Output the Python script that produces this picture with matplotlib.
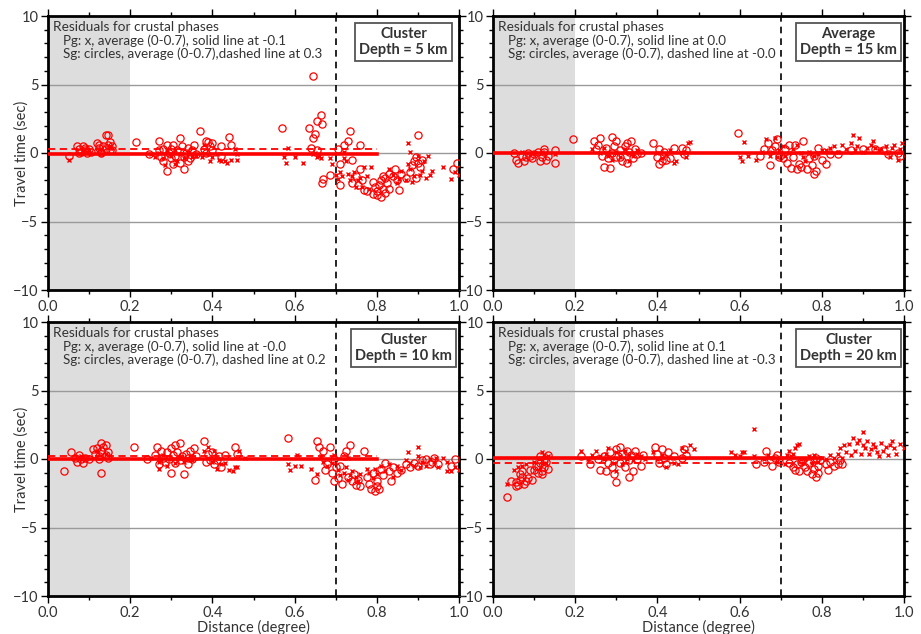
import matplotlib
matplotlib.use("Agg")
import matplotlib.pyplot as plt
import numpy as np

plt.rcParams['font.family'] = ['Lato', 'DejaVu Sans']

# panel order: top-left, top-right, bottom-left, bottom-right
box_labels = ["Cluster\nDepth = 5 km", "Average\nDepth = 15 km",
              "Cluster\nDepth = 10 km", "Cluster\nDepth = 20 km"]
pg_text = ["Pg: x, average (0-0.7), solid line at -0.1",
           "Pg: x, average (0-0.7), solid line at 0.0",
           "Pg: x, average (0-0.7), solid line at -0.0",
           "Pg: x, average (0-0.7), solid line at 0.1"]
sg_text = ["Sg: circles, average (0-0.7),dashed line at 0.3",
           "Sg: circles, average (0-0.7), dashed line at -0.0",
           "Sg: circles, average (0-0.7), dashed line at 0.2",
           "Sg: circles, average (0-0.7), dashed line at -0.3"]
pg_avg = [-0.1, 0.0, -0.0, 0.1]
sg_avg = [0.3, -0.0, 0.2, -0.3]
avg_end = [0.8, 1.0, 0.8, 0.8]

# depth 5 km
sg5 = [(0.05,-0.2),(0.07,0.5),(0.075,0.3),(0.08,0.1),(0.085,0.5),(0.09,0.2),(0.095,0.0),(0.1,0.3),
       (0.105,0.1),(0.075,0.0),(0.09,0.4),(0.12,0.7),(0.125,0.4),(0.13,0.1),(0.135,0.5),(0.14,0.3),
       (0.145,0.6),(0.15,0.8),(0.155,0.5),(0.14,1.3),(0.145,1.3),(0.13,0.0),(0.15,0.2),(0.125,0.6),
       (0.155,0.2),(0.215,0.8),(0.245,-0.1),(0.27,0.9),(0.27,0.2),(0.275,-0.3),(0.28,-0.6),(0.29,0.6),
       (0.295,0.0),(0.3,0.3),(0.3,-0.4),(0.305,0.6),(0.31,-0.2),(0.315,0.2),(0.32,1.1),(0.32,-0.7),
       (0.325,0.5),(0.33,-0.3),(0.33,-1.2),(0.335,0.0),(0.34,0.4),(0.345,-0.4),(0.35,0.2),(0.355,0.6),
       (0.36,-0.1),(0.29,-1.3),(0.305,-0.8),(0.28,0.3),(0.34,-0.6),(0.37,1.6),(0.38,0.3),(0.385,0.9),
       (0.39,0.8),(0.395,0.5),(0.4,0.2),(0.4,0.7),(0.385,0.0),(0.42,0.5),(0.44,1.2),(0.445,0.6),
       (0.42,-0.2),(0.57,1.85),(0.635,1.8),(0.64,0.4),(0.645,5.6),(0.645,1.1),(0.65,1.4),(0.655,2.3),
       (0.665,2.8),(0.667,2.1),(0.667,-2.2),(0.655,0.2),(0.67,-1.9),(0.685,-1.6),(0.705,0.3),(0.71,-0.8),
       (0.71,-2.3),(0.72,0.6),(0.73,0.9),(0.735,1.6),(0.74,-0.5),(0.74,-2.2),(0.755,-2.3),(0.76,0.6),
       (0.765,-2.0),(0.77,-2.7),(0.775,-2.8),(0.76,-1.2),(0.75,-1.7),(0.79,-2.1),(0.795,-2.5),(0.8,-2.8),
       (0.8,-3.1),(0.805,-2.3),(0.81,-2.0),(0.81,-3.2),(0.815,-2.6),(0.82,-1.8),(0.82,-2.9),(0.825,-2.2),
       (0.83,-1.5),(0.83,-2.6),(0.79,-3.0),(0.815,-1.7),(0.84,-1.7),(0.845,-1.2),(0.85,-2.0),(0.855,-2.7),
       (0.86,-1.5),(0.87,-1.8),(0.88,-1.4),(0.885,-0.9),(0.89,-0.6),(0.895,-0.3),(0.9,1.3),(0.9,-0.7),
       (0.905,-1.0),(0.91,-0.5),(0.895,-1.8),(0.985,-1.2),(0.995,-0.7)]
pg5 = [(0.05,-0.5),(0.1,0.2),(0.13,0.3),(0.15,0.5),(0.25,-0.1),(0.26,-0.3),(0.27,0.0),(0.28,-0.4),
       (0.29,0.1),(0.3,-0.2),(0.31,0.2),(0.315,-0.6),(0.32,-0.1),(0.33,-0.4),(0.34,0.1),(0.35,-0.3),
       (0.36,-0.2),(0.285,-0.9),(0.31,-0.8),(0.375,-0.3),(0.38,0.6),(0.39,-0.1),(0.395,-0.6),(0.4,-0.3),
       (0.41,-0.1),(0.415,-0.5),(0.42,-0.6),(0.43,-0.6),(0.435,-0.7),(0.445,-0.5),(0.455,0.3),(0.46,-0.1),
       (0.46,-0.5),(0.575,-0.3),(0.58,-0.7),(0.585,0.4),(0.6,-0.3),(0.62,-0.7),(0.645,-0.1),(0.65,0.0),
       (0.655,-0.3),(0.66,-0.2),(0.665,-0.4),(0.69,-0.8),(0.685,-0.4),(0.7,-1.6),(0.705,-1.9),(0.71,-1.4),
       (0.715,-1.7),(0.72,-0.4),(0.725,-0.6),(0.73,-1.5),(0.735,-2.0),(0.74,-1.7),(0.745,-1.4),(0.75,-2.5),
       (0.755,-2.0),(0.76,-1.8),(0.765,-2.5),(0.77,-1.0),(0.775,-1.7),(0.78,-2.6),(0.785,-1.0),(0.72,0.1),
       (0.83,-1.2),(0.84,-1.6),(0.85,-2.2),(0.855,-1.9),(0.86,-1.3),(0.87,-2.0),(0.875,-0.8),(0.875,0.7),
       (0.88,-1.2),(0.885,-2.1),(0.89,-1.7),(0.88,0.1),(0.9,-0.2),(0.905,-1.6),(0.91,-1.3),(0.915,-0.6),
       (0.92,-1.8),(0.925,-0.2),(0.93,-1.6),(0.935,-1.3),(0.96,-1.0),(0.98,-1.9),(0.99,-1.4),(1.0,-1.6)]

# depth 15 km (average)
sg15 = [(0.05,0.0),(0.055,-0.5),(0.06,-0.7),(0.07,-0.2),(0.075,-0.6),(0.08,-0.3),(0.085,0.0),(0.09,-0.2),
        (0.095,-0.4),(0.1,-0.1),(0.11,0.1),(0.115,-0.6),(0.12,-0.3),(0.125,0.1),(0.13,-0.5),(0.125,0.3),
        (0.135,-0.2),(0.15,0.2),(0.15,-0.7),(0.195,1.0),(0.245,0.9),(0.25,0.3),(0.255,0.6),(0.26,1.1),
        (0.265,-0.2),(0.27,-1.0),(0.275,0.4),(0.28,-0.4),(0.285,-1.1),(0.29,0.0),(0.29,1.2),(0.295,0.5),
        (0.3,0.9),(0.3,-0.3),(0.31,0.2),(0.315,-0.6),(0.32,0.5),(0.325,-0.7),(0.33,0.1),(0.335,0.9),
        (0.34,-0.4),(0.345,0.3),(0.35,-0.1),(0.36,0.0),(0.31,-0.3),(0.325,0.7),(0.39,0.7),(0.4,-0.3),
        (0.405,0.3),(0.41,-0.6),(0.405,-0.8),(0.415,0.1),(0.42,-0.5),(0.43,-0.4),(0.44,0.4),(0.46,0.4),
        (0.465,-0.1),(0.47,0.2),(0.595,1.45),(0.65,-0.2),(0.66,0.3),(0.67,0.7),(0.675,-0.9),(0.68,0.2),
        (0.685,0.5),(0.69,1.0),(0.695,-0.3),(0.705,-0.4),(0.71,0.3),(0.715,-0.7),(0.72,0.6),(0.725,-1.1),
        (0.73,-0.3),(0.735,0.6),(0.74,-1.2),(0.745,-0.8),(0.75,-1.0),(0.755,0.9),(0.765,-1.2),(0.77,-0.4),
        (0.775,-0.9),(0.78,-1.5),(0.785,-1.3),(0.79,0.4),(0.78,-0.2),(0.8,-0.5),(0.81,-0.8),(0.82,-0.1),
        (0.84,-0.1),(0.87,0.2),(0.9,0.3),(0.93,0.3),(0.95,0.2),(0.96,-0.1),(0.985,0.0),(0.99,-0.2)]
pg15 = [(0.07,0.1),(0.1,0.0),(0.12,0.1),(0.15,-0.1),(0.24,0.3),(0.26,0.0),(0.27,0.4),(0.28,-0.2),
        (0.3,0.1),(0.31,-0.3),(0.32,0.3),(0.33,0.0),(0.34,-0.2),(0.35,0.2),(0.29,-0.5),(0.33,-0.6),
        (0.4,0.0),(0.41,-0.4),(0.42,-0.1),(0.43,0.2),(0.44,-0.7),(0.445,-0.6),(0.46,0.0),(0.47,-0.3),
        (0.475,0.7),(0.48,0.8),(0.6,-0.3),(0.605,-0.6),(0.61,0.8),(0.62,-0.2),(0.64,-0.5),(0.655,0.1),
        (0.665,1.0),(0.675,-0.2),(0.68,0.1),(0.685,1.1),(0.69,-0.3),(0.695,0.2),(0.705,0.5),(0.71,-0.2),
        (0.72,0.0),(0.73,0.3),(0.74,0.6),(0.75,0.0),(0.755,-0.3),(0.76,-0.6),(0.77,0.1),(0.78,-0.2),
        (0.79,-0.1),(0.8,0.2),(0.81,0.2),(0.82,0.4),(0.83,0.5),(0.84,0.1),(0.85,0.6),(0.86,0.3),
        (0.87,0.7),(0.875,1.3),(0.88,0.2),(0.885,0.5),(0.89,1.1),(0.9,0.1),(0.91,0.4),(0.92,0.6),
        (0.925,0.9),(0.93,0.4),(0.94,0.2),(0.945,0.3),(0.955,0.5),(0.96,0.0),(0.965,-0.3),(0.97,0.4),
        (0.975,0.6),(0.985,-0.5),(0.99,0.3),(0.995,0.7)]

# depth 10 km
sg10 = [(0.04,-0.9),(0.055,0.5),(0.065,0.1),(0.07,-0.2),(0.075,0.3),(0.08,0.0),(0.085,-0.3),(0.09,0.1),
        (0.1,0.0),(0.11,0.7),(0.115,0.4),(0.12,0.8),(0.125,0.2),(0.13,1.2),(0.13,0.6),(0.135,0.9),
        (0.14,0.3),(0.14,1.0),(0.145,0.5),(0.13,-1.0),(0.125,0.0),(0.145,0.1),(0.21,0.9),(0.24,0.0),
        (0.26,0.3),(0.265,0.9),(0.27,-0.4),(0.275,0.6),(0.28,0.1),(0.285,-0.2),(0.29,0.5),(0.295,0.0),
        (0.3,-1.0),(0.3,0.8),(0.305,0.3),(0.31,-0.3),(0.31,1.0),(0.315,0.5),(0.32,1.2),(0.32,-0.1),
        (0.325,0.2),(0.33,-1.1),(0.335,0.4),(0.34,-0.4),(0.345,0.6),(0.35,0.0),(0.355,0.8),(0.36,0.2),
        (0.34,0.1),(0.38,1.3),(0.385,-0.2),(0.39,0.4),(0.395,-0.1),(0.4,0.5),(0.405,-0.4),(0.41,-0.1),
        (0.415,0.2),(0.42,-0.6),(0.43,0.3),(0.455,0.9),(0.46,0.4),(0.585,1.5),(0.65,-1.5),(0.655,1.3),
        (0.66,0.9),(0.67,0.6),(0.675,-0.8),(0.68,-0.4),(0.685,0.9),(0.69,-1.0),(0.695,-1.6),(0.7,-0.6),
        (0.695,0.0),(0.705,-1.4),(0.71,-0.5),(0.715,-1.8),(0.72,0.2),(0.725,0.6),(0.73,-1.3),(0.735,1.0),
        (0.74,-1.6),(0.745,-1.1),(0.75,-1.9),(0.755,-1.5),(0.76,-2.0),(0.77,0.6),(0.775,-1.3),(0.78,-1.8),
        (0.785,-2.2),(0.79,-1.0),(0.795,-2.3),(0.8,-1.6),(0.805,-2.2),(0.81,-0.7),(0.815,-1.2),(0.8,-2.0),
        (0.82,-0.3),(0.83,-0.9),(0.835,-1.6),(0.84,-0.6),(0.85,-1.0),(0.86,-0.8),(0.87,-0.4),(0.88,-0.6),
        (0.89,-0.3),(0.9,-0.5),(0.91,-0.1),(0.92,0.0),(0.93,-0.4),(0.935,-0.2),(0.94,0.1),(0.95,-0.4),
        (0.98,-0.5),(0.99,0.0)]
pg10 = [(0.08,0.2),(0.12,0.6),(0.14,0.4),(0.25,0.1),(0.27,-0.2),(0.28,0.3),(0.29,-0.5),(0.3,0.0),
        (0.31,-0.3),(0.32,0.1),(0.33,-0.2),(0.34,0.0),(0.35,-0.1),(0.27,-0.7),(0.38,0.6),(0.39,0.9),
        (0.4,-0.2),(0.405,0.6),(0.41,-0.7),(0.42,-0.4),(0.43,-0.3),(0.44,-0.8),(0.45,-0.9),(0.455,-0.6),
        (0.465,0.6),(0.46,-0.6),(0.48,0.1),(0.585,-0.4),(0.59,-0.8),(0.6,-0.5),(0.605,0.3),(0.615,-0.5),
        (0.64,-0.7),(0.655,-1.1),(0.665,0.2),(0.67,-0.2),(0.68,-0.5),(0.69,-0.3),(0.695,0.3),(0.705,-0.8),
        (0.71,-1.2),(0.72,-1.0),(0.725,-0.6),(0.73,-1.5),(0.735,-1.2),(0.74,-0.9),(0.75,-1.3),(0.755,-1.6),
        (0.76,-1.1),(0.775,-0.7),(0.78,-1.0),(0.79,-1.4),(0.795,-0.7),(0.8,-1.1),(0.73,0.1),(0.81,-0.5),
        (0.82,-0.9),(0.83,-0.4),(0.84,-1.3),(0.85,-0.5),(0.86,-0.8),(0.87,-0.1),(0.875,0.5),(0.88,-0.3),
        (0.89,-0.5),(0.9,0.2),(0.9,0.9),(0.905,-0.6),(0.91,-0.2),(0.92,-0.5),(0.93,0.0),(0.94,-0.2),
        (0.95,-0.6),(0.96,0.1),(0.97,-0.2),(0.98,-0.9),(0.99,-0.6),(1.0,-0.8),(0.97,-0.9),(0.945,0.1)]

# depth 20 km
sg20 = [(0.035,-2.8),(0.045,-1.6),(0.055,-2.0),(0.055,-1.7),(0.06,-1.9),(0.065,-1.5),(0.065,-1.1),(0.07,-1.3),
        (0.075,-1.8),(0.08,-1.6),(0.085,-1.4),(0.09,-0.8),(0.095,-1.5),(0.1,-0.8),(0.105,-0.5),(0.11,-1.0),
        (0.115,-0.3),(0.12,-0.9),(0.12,-1.1),(0.125,0.0),(0.125,-0.6),(0.13,-0.2),(0.135,0.3),(0.135,-0.7),
        (0.115,0.2),(0.07,-0.9),(0.11,-0.5),(0.215,0.2),(0.235,-0.4),(0.255,0.0),(0.26,-0.8),(0.27,0.2),
        (0.275,-0.9),(0.28,-0.3),(0.285,0.5),(0.29,-0.6),(0.295,-1.1),(0.3,0.7),(0.3,-1.7),(0.305,0.2),
        (0.31,-0.3),(0.31,0.9),(0.315,0.4),(0.32,-0.6),(0.325,0.6),(0.33,-0.1),(0.33,-1.3),(0.335,0.3),
        (0.34,-0.9),(0.345,0.6),(0.35,0.0),(0.36,-0.5),(0.365,0.3),(0.395,0.9),(0.4,0.4),(0.405,-0.3),
        (0.41,0.7),(0.415,0.1),(0.42,-0.4),(0.425,0.5),(0.44,0.2),(0.465,0.7),(0.47,0.3),(0.46,0.1),
        (0.64,-0.4),(0.66,-0.2),(0.665,0.6),(0.68,-0.5),(0.685,0.1),(0.69,0.3),(0.695,-0.2),(0.72,-0.3),
        (0.73,-0.6),(0.735,-0.8),(0.74,-0.4),(0.745,-0.9),(0.75,-0.2),(0.76,-0.6),(0.765,-0.9),(0.77,-0.3),
        (0.775,-1.1),(0.78,-0.7),(0.785,-1.3),(0.79,-1.0),(0.79,-0.5),(0.795,-0.1),(0.785,0.1),(0.81,-0.4),
        (0.815,-0.8),(0.82,-0.2),(0.83,-0.5),(0.84,-0.4),(0.845,-0.1),(0.85,-0.4)]
pg20 = [(0.035,-1.8),(0.05,-0.8),(0.06,-0.6),(0.07,-0.5),(0.08,-0.4),(0.1,-0.2),(0.11,0.1),(0.12,0.5),
        (0.125,0.3),(0.13,-0.3),(0.135,0.2),(0.215,0.6),(0.23,0.0),(0.24,0.3),(0.25,0.6),(0.26,0.2),
        (0.27,0.0),(0.275,0.4),(0.28,0.8),(0.29,0.1),(0.295,-0.3),(0.3,0.5),(0.31,0.2),(0.315,-0.4),
        (0.32,0.6),(0.325,0.0),(0.33,0.3),(0.34,-0.1),(0.35,0.4),(0.36,0.2),(0.37,0.0),(0.3,-0.9),
        (0.39,0.5),(0.4,0.0),(0.41,0.3),(0.42,-0.6),(0.43,0.1),(0.44,-0.3),(0.45,-0.4),(0.46,0.8),
        (0.47,0.6),(0.48,1.0),(0.49,0.7),(0.58,0.5),(0.59,0.3),(0.6,0.2),(0.605,0.5),(0.61,0.5),
        (0.635,2.2),(0.635,0.2),(0.66,0.0),(0.67,0.3),(0.68,0.1),(0.69,-0.2),(0.7,0.1),(0.71,-0.4),
        (0.715,0.3),(0.72,0.6),(0.725,0.2),(0.73,0.4),(0.735,0.8),(0.74,1.0),(0.745,1.1),(0.75,0.0),
        (0.755,-0.3),(0.76,0.0),(0.77,0.2),(0.775,-0.3),(0.78,0.3),(0.79,-0.2),(0.8,0.1),(0.81,0.0),
        (0.82,0.3),(0.83,0.1),(0.84,0.4),(0.845,0.8),(0.85,0.1),(0.855,1.0),(0.86,0.5),(0.865,1.1),
        (0.87,0.3),(0.875,1.5),(0.88,0.6),(0.885,1.2),(0.89,1.4),(0.895,0.4),(0.9,1.0),(0.9,2.0),
        (0.905,0.8),(0.91,1.3),(0.915,0.4),(0.92,0.7),(0.925,1.1),(0.93,0.9),(0.935,0.5),(0.94,0.2),
        (0.945,1.2),(0.95,0.6),(0.955,0.9),(0.96,0.3),(0.965,1.0),(0.97,1.3),(0.975,0.8),(0.98,0.4),
        (0.99,1.1),(1.0,0.8)]

sg_all = [sg5, sg15, sg10, sg20]
pg_all = [pg5, pg15, pg10, pg20]

fig = plt.figure(figsize=(9.21, 6.34), dpi=100)
W, H = 921.0, 634.0
# axes boxes in pixels: left, top (all 411 x 274)
boxes = [(48, 16), (493, 16), (48, 322), (493, 322)]
txt_col = '#333333'

for i, (lx, ty) in enumerate(boxes):
    ax = fig.add_axes([lx / W, 1 - (ty + 274) / H, 411 / W, 274 / H])
    ax.set_xlim(0, 1)
    ax.set_ylim(-10, 10)
    ax.axvspan(0, 0.2, color='#dddddd', lw=0, zorder=0)
    for g in (-5, 0, 5):
        ax.axhline(g, color='#9a9a9a', lw=1, zorder=1)
    ax.axvline(0.7, color='black', ls=(0, (4, 3)), lw=1.2, zorder=2)

    d, t = np.array(pg_all[i]).T
    ax.plot(d, t, 'x', color='red', ms=3.2, mew=1.0, zorder=3)
    d, t = np.array(sg_all[i]).T
    ax.plot(d, t, 'o', mfc='none', mec='red', ms=5.2, mew=0.9, zorder=3)

    ax.plot([0, avg_end[i]], [sg_avg[i], sg_avg[i]], color='red', ls=(0, (4, 2.5)), lw=1.3, zorder=4)
    ax.plot([0, avg_end[i]], [pg_avg[i], pg_avg[i]], color='red', lw=2.6, zorder=4)

    ax.text(0.012, 0.982, "Residuals for crustal phases", transform=ax.transAxes,
            ha='left', va='top', fontsize=9.8, color=txt_col)
    ax.text(0.036, 0.933, pg_text[i], transform=ax.transAxes,
            ha='left', va='top', fontsize=9.6, color=txt_col)
    ax.text(0.036, 0.884, sg_text[i], transform=ax.transAxes,
            ha='left', va='top', fontsize=9.6, color=txt_col)
    ax.text(0.865, 0.905, box_labels[i], transform=ax.transAxes, ha='center', va='center',
            fontsize=10.5, fontweight='bold', color=txt_col, linespacing=1.15,
            bbox=dict(boxstyle='square,pad=0.28', fc='white', ec='#555555', lw=1.3))

    ax.set_xticks([0, 0.2, 0.4, 0.6, 0.8, 1.0])
    ax.set_xticks(np.arange(0, 1.01, 0.1), minor=True)
    ax.set_yticks([-10, -5, 0, 5, 10])
    ax.set_yticks(np.arange(-10, 11, 1), minor=True)
    ax.set_xticklabels(['0.0', '0.2', '0.4', '0.6', '0.8', '1.0'])
    ax.tick_params(which='both', direction='out', top=True, right=True,
                   labelsize=10.5, labelcolor=txt_col, width=1, pad=2)
    ax.tick_params(which='major', length=5)
    ax.tick_params(which='minor', length=3)
    for s in ax.spines.values():
        s.set_linewidth(2)
    if i in (0, 2):
        ax.set_ylabel("Travel time (sec)", fontsize=10.5, color=txt_col)
        ax.yaxis.set_label_coords(-0.046, 0.5)
    if i in (2, 3):
        ax.set_xlabel("Distance (degree)", fontsize=10.5, color=txt_col, labelpad=0)

fig.savefig("out.png", dpi=100)
